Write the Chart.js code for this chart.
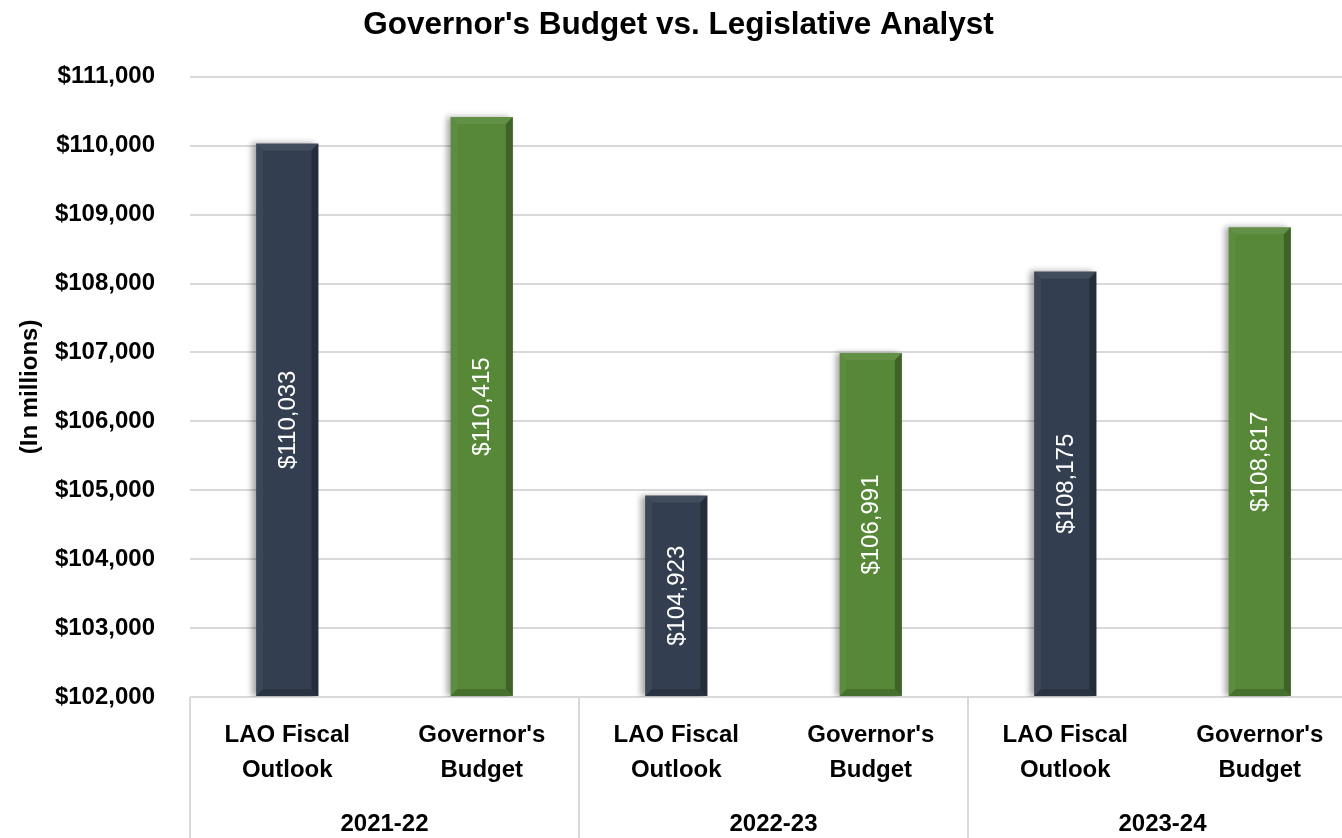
<!DOCTYPE html>
<html>
<head>
<meta charset="utf-8">
<title>Governor's Budget vs. Legislative Analyst</title>
<script src="https://cdn.jsdelivr.net/npm/chart.js@4/dist/chart.umd.min.js"></script>
<style>
    html, body { margin: 0; padding: 0; background: #fff; overflow: hidden; }
    #wrap { position: relative; width: 1357px; height: 838px; }
</style>
</head>
<body>
<div id="wrap"><canvas id="budgetChart"></canvas></div>
<script>
// Fiscal years and the two estimates for each (in millions)
const years = ['2021-22', '2022-23', '2023-24'];
const sourceLabels = [['LAO Fiscal', 'Outlook'], ["Governor's", 'Budget']];
const laoValues = [110033, 104923, 108175];
const govValues = [110415, 106991, 108817];
const yTicks = [102000, 111000, 1000]; // min, max, step

const FONT = "'Liberation Sans', Arial, sans-serif";
const NAVY = '#333F50';
const GREEN = '#578838';

// Interleave: each year gets an LAO bar followed by a Governor's bar
const labels = [];
const values = [];
const colors = [];
years.forEach((yr, i) => {
    labels.push(sourceLabels[0], sourceLabels[1]);
    values.push(laoValues[i], govValues[i]);
    colors.push(NAVY, GREEN);
});

const money = v => '$' + Number(v).toLocaleString('en-US');

/**
 * Soft drop shadow behind the bars
 */
const barShadow = {
    id: 'barShadow',
    beforeDatasetsDraw(chart) {
        const ctx = chart.ctx;
        ctx.save();
        ctx.shadowColor = 'rgba(0, 0, 0, 0.35)';
        ctx.shadowBlur = 6;
        ctx.shadowOffsetX = -4;
        ctx.shadowOffsetY = 0;
    },
    afterDatasetsDraw(chart) {
        chart.ctx.restore();
    }
};

/**
 * Angled bevel on the edges of each bar, plus rotated value label
 */
const barBevel = {
    id: 'barBevel',
    afterDatasetsDraw(chart) {
        const ctx = chart.ctx;
        const area = chart.chartArea;
        const meta = chart.getDatasetMeta(0);
        meta.data.forEach((bar, i) => {
            const p = bar.getProps(['x', 'y', 'base', 'width'], true);
            const l = p.x - p.width / 2, r = p.x + p.width / 2;
            const t = Math.max(Math.min(p.y, p.base), area.top);
            const b = Math.min(Math.max(p.y, p.base), area.bottom);
            const d = 7;
            ctx.save();
            // top edge (lit)
            ctx.fillStyle = 'rgba(255, 255, 255, 0.07)';
            ctx.beginPath();
            ctx.moveTo(l, t); ctx.lineTo(r, t); ctx.lineTo(r - d, t + d); ctx.lineTo(l + d, t + d);
            ctx.closePath(); ctx.fill();
            // left edge (slightly lit)
            ctx.fillStyle = 'rgba(255, 255, 255, 0.04)';
            ctx.beginPath();
            ctx.moveTo(l, t); ctx.lineTo(l + d, t + d); ctx.lineTo(l + d, b - d); ctx.lineTo(l, b);
            ctx.closePath(); ctx.fill();
            // right edge (shade)
            ctx.fillStyle = 'rgba(0, 0, 0, 0.28)';
            ctx.beginPath();
            ctx.moveTo(r, t); ctx.lineTo(r, b); ctx.lineTo(r - d, b - d); ctx.lineTo(r - d, t + d);
            ctx.closePath(); ctx.fill();
            // bottom edge (shade)
            ctx.fillStyle = 'rgba(0, 0, 0, 0.18)';
            ctx.beginPath();
            ctx.moveTo(l, b); ctx.lineTo(r, b); ctx.lineTo(r - d, b - d); ctx.lineTo(l + d, b - d);
            ctx.closePath(); ctx.fill();

            // value label, rotated, centred in the bar
            ctx.translate(p.x, (t + b) / 2);
            ctx.rotate(-Math.PI / 2);
            ctx.font = `24px ${FONT}`;
            ctx.fillStyle = '#ffffff';
            ctx.textAlign = 'center';
            ctx.textBaseline = 'middle';
            ctx.fillText(money(values[i]), 0, 1);
            ctx.restore();
        });
    }
};

/**
 * Year group labels and the divider lines under the x axis
 */
const yearGroups = {
    id: 'yearGroups',
    afterDraw(chart) {
        const ctx = chart.ctx;
        const x = chart.scales.x;
        const area = chart.chartArea;
        const half = (x.getPixelForValue(1) - x.getPixelForValue(0)) / 2;
        ctx.save();
        ctx.strokeStyle = '#d9d9d9';
        ctx.lineWidth = 2;
        for (let g = 0; g <= years.length; g++) {
            const px = g < years.length
                ? x.getPixelForValue(g * 2) - half
                : x.getPixelForValue(g * 2 - 1) + half;
            ctx.beginPath();
            ctx.moveTo(px, area.bottom);
            ctx.lineTo(px, chart.height);
            ctx.stroke();
        }
        ctx.font = `bold 24px ${FONT}`;
        ctx.fillStyle = '#000';
        ctx.textAlign = 'center';
        ctx.textBaseline = 'middle';
        years.forEach((yr, g) => {
            const cx = (x.getPixelForValue(g * 2) + x.getPixelForValue(g * 2 + 1)) / 2;
            ctx.fillText(yr, cx, area.bottom + 127);
        });
        ctx.restore();
    }
};

const ctx = document.getElementById('budgetChart');
new Chart(ctx, {
    type: 'bar',
    data: {
        labels: labels,
        datasets: [{
            data: values,
            base: yTicks[0],
            backgroundColor: colors,
            borderWidth: 0,
            barPercentage: 0.32,
            categoryPercentage: 1
        }]
    },
    options: {
        responsive: true,
        maintainAspectRatio: false,
        animation: false,
        layout: { padding: 0 },
        plugins: {
            legend: { display: false },
            tooltip: { enabled: false },
            title: {
                display: true,
                text: "Governor's Budget vs. Legislative Analyst",
                color: '#000',
                font: { family: FONT, size: 31.5, weight: 'bold' },
                padding: { top: 6, bottom: 33 }
            }
        },
        scales: {
            y: {
                min: yTicks[0],
                max: yTicks[1],
                ticks: {
                    stepSize: yTicks[2],
                    color: '#000',
                    font: { family: FONT, size: 24, weight: 'bold' },
                    padding: 35,
                    callback: v => money(v)
                },
                grid: { color: '#d9d9d9', lineWidth: 2, drawTicks: false },
                border: { display: false },
                title: {
                    display: true,
                    text: '(In millions)',
                    color: '#000',
                    font: { family: FONT, size: 24, weight: 'bold' },
                    padding: { top: 16, bottom: 0 }
                },
                afterFit: scale => { scale.width = 190; }
            },
            x: {
                ticks: {
                    color: '#000',
                    font: { family: FONT, size: 24, weight: 'bold', lineHeight: 1.45 },
                    padding: 13,
                    maxRotation: 0,
                    autoSkip: false
                },
                grid: { display: false },
                border: { display: false },
                afterFit: scale => { scale.height = 141; }
            }
        }
    },
    plugins: [barShadow, barBevel, yearGroups]
});
</script>
</body>
</html>
